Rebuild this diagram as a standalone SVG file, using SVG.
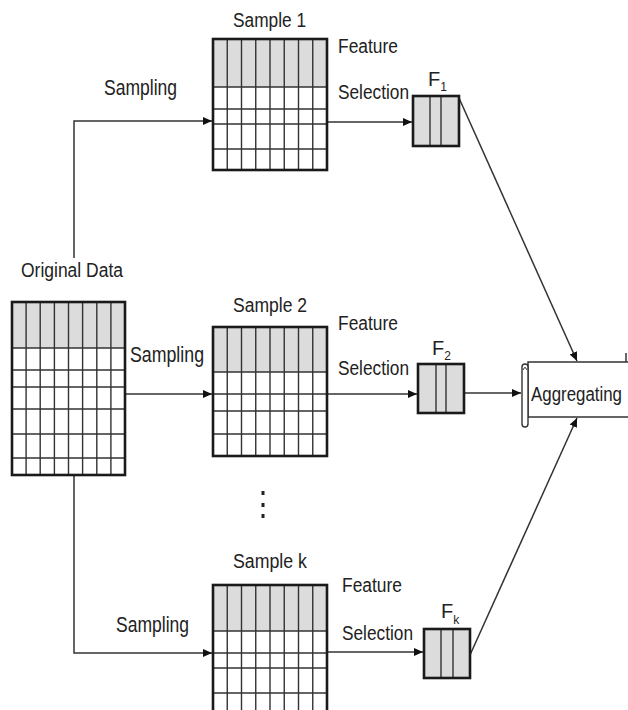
<svg xmlns="http://www.w3.org/2000/svg" width="628" height="710" viewBox="0 0 628 710">
<defs>
<style>
text{font-family:"Liberation Sans",Arial,sans-serif;fill:#222;font-size:20px}
.lbl{font-size:22px}
.smp{font-size:19.5px}
.outer{fill:none;stroke:#1a1a1a;stroke-width:2.6}
.gray{fill:#dcdcdc;stroke:none}
.inner{stroke:#333;stroke-width:1.4;fill:none}
.con{stroke:#333;stroke-width:1.5;fill:none}
</style>
<marker id="ah" markerWidth="10" markerHeight="8" refX="9" refY="4" orient="auto" markerUnits="userSpaceOnUse">
<path d="M0,0 L9,4 L0,8 Z" fill="#111"/>
</marker>
</defs>
<rect width="628" height="710" fill="#fff"/>

<g id="connectors">
<path class="con" d="M74,258 V121 H212" marker-end="url(#ah)"/>
<path class="con" d="M125,394 H212" marker-end="url(#ah)"/>
<path class="con" d="M74,475 V653 H212" marker-end="url(#ah)"/>
<path class="con" d="M327,122 H412" marker-end="url(#ah)"/>
<path class="con" d="M327,394 H417" marker-end="url(#ah)"/>
<path class="con" d="M327,652 H423" marker-end="url(#ah)"/>
<path class="con" d="M464,393 H521" marker-end="url(#ah)"/>
<path class="con" d="M459,98 L577,361" marker-end="url(#ah)"/>
<path class="con" d="M470,655 L577,418" marker-end="url(#ah)"/>
</g>

<g id="original-data">
<text x="21" y="277" font-size="21" textLength="102" lengthAdjust="spacingAndGlyphs">Original Data</text>
<rect class="gray" x="12" y="302" width="113" height="46"/>
<path class="inner" d="M26.1,302V475M40.2,302V475M54.4,302V475M68.5,302V475M82.6,302V475M96.8,302V475M110.9,302V475M12,348H125M12,370H125M12,387H125M12,409H125M12,434H125M12,458H125"/>
<rect class="outer" x="12" y="302" width="113" height="173"/>
<text class="lbl" x="130" y="362" textLength="74" lengthAdjust="spacingAndGlyphs">Sampling</text>
</g>

<g id="sample1">
<text class="lbl" x="104" y="95" textLength="73" lengthAdjust="spacingAndGlyphs">Sampling</text>
<text class="smp" x="233" y="27" textLength="73" lengthAdjust="spacingAndGlyphs">Sample 1</text>
<rect class="gray" x="213" y="39" width="114" height="48"/>
<path class="inner" d="M227.25,39V170M241.5,39V170M255.75,39V170M270,39V170M284.25,39V170M298.5,39V170M312.75,39V170M213,87H327M213,109H327M213,124H327M213,149H327"/>
<rect class="outer" x="213" y="39" width="114" height="131"/>
<text x="338" y="53" textLength="60" lengthAdjust="spacingAndGlyphs">Feature</text>
<text x="338" y="99" textLength="71" lengthAdjust="spacingAndGlyphs">Selection</text>
</g>

<g id="f1">
<text x="428" y="86" font-size="19">F<tspan font-size="12" dy="5">1</tspan></text>
<rect class="gray" x="413" y="96" width="46" height="50"/>
<path class="inner" d="M430,96V146M441,96V146"/>
<rect class="outer" x="413" y="96" width="46" height="50"/>
</g>

<g id="sample2">
<text class="smp" x="233" y="312" textLength="74" lengthAdjust="spacingAndGlyphs">Sample 2</text>
<rect class="gray" x="213" y="327" width="114" height="45"/>
<path class="inner" d="M227.25,327V456M241.5,327V456M255.75,327V456M270,327V456M284.25,327V456M298.5,327V456M312.75,327V456M213,372H327M213,394H327M213,411H327M213,434H327"/>
<rect class="outer" x="213" y="327" width="114" height="129"/>
<text x="338" y="330" textLength="60" lengthAdjust="spacingAndGlyphs">Feature</text>
<text x="338" y="375" textLength="71" lengthAdjust="spacingAndGlyphs">Selection</text>
</g>

<g id="f2">
<text x="432" y="355" font-size="19">F<tspan font-size="12" dy="5">2</tspan></text>
<rect class="gray" x="418" y="364" width="46" height="49"/>
<path class="inner" d="M436,364V413M446,364V413"/>
<rect class="outer" x="418" y="364" width="46" height="49"/>
</g>

<g id="dots" fill="#222">
<rect x="261.5" y="491" width="3" height="4"/>
<rect x="261.5" y="503" width="3" height="4"/>
<rect x="261.5" y="514" width="3" height="4"/>
</g>

<g id="samplek">
<text class="lbl" x="116" y="632" textLength="73" lengthAdjust="spacingAndGlyphs">Sampling</text>
<text class="smp" x="233" y="568" textLength="74" lengthAdjust="spacingAndGlyphs">Sample k</text>
<rect class="gray" x="213" y="585" width="114" height="46"/>
<path class="inner" d="M227.25,585V712M241.5,585V712M255.75,585V712M270,585V712M284.25,585V712M298.5,585V712M312.75,585V712M213,631H327M213,653H327M213,668H327M213,693H327"/>
<rect class="outer" x="213" y="585" width="114" height="130"/>
<text x="342" y="592" textLength="60" lengthAdjust="spacingAndGlyphs">Feature</text>
<text x="342" y="640" textLength="71" lengthAdjust="spacingAndGlyphs">Selection</text>
</g>

<g id="fk">
<text x="441" y="618" font-size="19">F<tspan font-size="12" dy="6">k</tspan></text>
<rect class="gray" x="424" y="629" width="46" height="49"/>
<path class="inner" d="M441,629V678M453,629V678"/>
<rect class="outer" x="424" y="629" width="46" height="49"/>
</g>

<g id="aggregating">
<rect x="528" y="362" width="120" height="55" fill="#fff" stroke="#333" stroke-width="1.5"/>
<rect x="522" y="364" width="6" height="63" rx="3" fill="#fff" stroke="#333" stroke-width="1.4"/>
<path d="M523,370 q2,-5 4,0" fill="none" stroke="#333" stroke-width="1"/>
<path d="M626,353 V362" stroke="#333" stroke-width="1.5"/>
<text x="531" y="401" font-size="23" textLength="91" lengthAdjust="spacingAndGlyphs">Aggregating</text>
</g>
</svg>
